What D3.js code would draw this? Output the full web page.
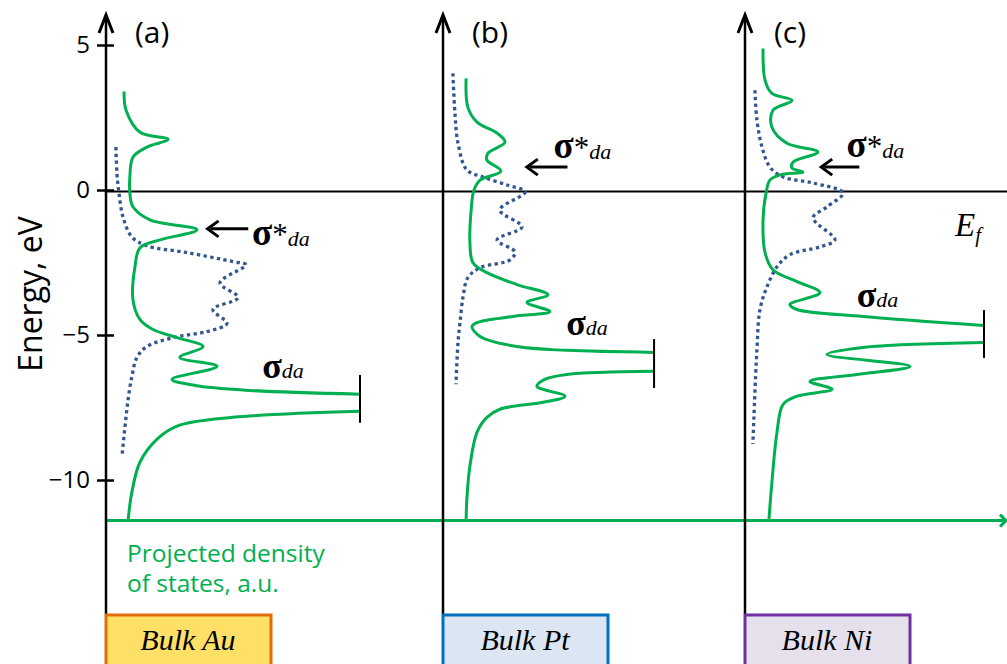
<!DOCTYPE html>
<meta charset="utf-8">
<html>
<style>
body { margin: 0; background: #fff; }
.tick text { font: 24px "Open Sans", sans-serif; fill: #000; }
.green { fill: none; stroke: #00b050; stroke-width: 3; }
.band { fill: none; stroke: #34558f; stroke-width: 3.3; stroke-dasharray: 3.3 3.4; }
.serif { font-family: "Liberation Serif", "DejaVu Serif", serif; }
</style>
<svg width="1007" height="664"></svg>
<script src="https://d3js.org/d3.v7.min.js"></script>
<script>
// energy ticks and labels
var energyTicks = [5, 0, -5, -10];
var panelLabels = ["(a)", "(b)", "(c)"];
var materials = ["Bulk Au", "Bulk Pt", "Bulk Ni"];
var captionLines = ["Projected density", "of states, a.u."];

// adsorbate projected DOS, [energy eV, dos a.u.]; null = cut at the bar
var auPdos = [[3.40,0.71],[2.75,0.79],[1.99,1.34],[1.75,2.44],[1.48,1.61],[1.13,1.06],[0.45,0.94],[-0.10,0.94],
  [-0.58,1.06],[-1.03,1.73],[-1.37,3.58],[-1.72,2.13],[-1.99,1.34],[-2.65,1.14],[-3.78,1.06],[-4.47,1.34],
  [-4.81,1.85],[-5.09,2.80],[-5.40,3.82],[-5.77,2.91],[-6.08,4.37],[-6.53,2.60],[-6.74,3.50],[-6.91,5.67],
  [-7.04,10.0], null, [-7.63,10.0],[-7.84,5.0],[-8.14,2.80],[-8.59,2.01],[-9.38,1.34],[-10.41,1.02],[-11.4,0.87]];
var ptPdos = [[3.85,0.91],[2.85,0.98],[2.34,1.34],[1.96,2.13],[1.65,2.44],[1.27,1.77],[1.03,1.73],[0.65,2.28],
  [0.34,1.46],[0.0,1.22],[-0.79,1.10],[-1.82,1.06],[-2.51,1.18],[-2.85,1.73],[-3.26,2.91],[-3.61,4.13],
  [-3.88,3.31],[-4.19,4.21],[-4.36,2.76],[-4.57,1.34],[-4.71,1.14],[-5.05,1.46],[-5.40,2.91],[-5.53,4.88],
  [-5.60,8.31], null, [-6.25,8.31],[-6.36,4.88],[-6.53,4.0],[-6.77,3.70],[-7.11,4.80],[-7.32,3.94],[-7.56,2.24],
  [-7.84,1.73],[-8.35,1.34],[-9.52,1.06],[-10.65,0.94],[-11.4,0.91]];
var niPdos = [[4.88,0.71],[3.78,0.79],[3.33,1.06],[3.09,1.85],[2.75,1.10],[2.16,1.06],[1.61,1.65],[1.31,2.87],
  [0.96,1.89],[0.76,1.85],[0.62,2.28],[0.52,1.38],[0.34,0.98],[-0.10,0.83],[-1.03,0.71],[-2.16,0.79],
  [-2.75,1.10],[-3.16,2.05],[-3.54,2.95],[-3.95,1.77],[-4.12,2.05],[-4.36,4.65],[-4.67,9.41], null,
  [-5.26,9.41],[-5.43,4.65],[-5.67,3.23],[-6.08,6.50],[-6.36,4.41],[-6.60,2.56],[-6.87,3.43],[-7.11,2.05],
  [-7.39,1.50],[-8.35,1.26],[-10.07,1.06],[-11.4,0.94]];

// metal d-band (dotted)
var auBand = [[1.48,0.39],[0.58,0.43],[-0.10,0.51],[-0.93,0.67],[-1.62,1.02],[-1.92,1.61],[-2.16,3.19],
  [-2.47,5.0],[-2.58,5.51],[-3.20,4.49],[-3.71,5.20],[-4.12,4.21],[-4.60,4.76],[-4.88,3.98],[-5.09,2.64],
  [-5.40,1.61],[-5.77,1.22],[-6.43,1.02],[-7.22,0.87],[-8.14,0.75],[-9.18,0.63]];
var ptBand = [[4.02,0.39],[2.65,0.47],[1.62,0.59],[0.69,0.94],[0.45,1.57],[0.17,2.52],[-0.07,3.23],
  [-0.69,2.24],[-1.27,3.11],[-1.72,2.13],[-2.13,2.83],[-2.41,2.64],[-2.68,1.46],[-3.02,0.98],[-3.68,0.79],
  [-4.57,0.67],[-5.26,0.59],[-6.70,0.51]];
var niBand = [[3.44,0.39],[2.41,0.47],[1.48,0.67],[0.79,0.98],[0.45,1.50],[0.24,2.68],[-0.10,3.86],
  [-0.58,3.23],[-0.96,2.68],[-1.72,3.54],[-1.96,2.95],[-2.23,1.77],[-2.65,1.26],[-3.33,0.87],[-4.12,0.59],
  [-5.50,0.47],[-8.76,0.31]];

// bonding peak cut-off: [dos, E top, E bottom]
var cutBars = [[10.0,-6.38,-8.03],[8.31,-5.14,-6.83],[9.41,-4.14,-5.79]];

var pdos = [auPdos, ptPdos, niPdos];
var bands = [auBand, ptBand, niBand];

// layout
var panelX = [106, 443, 745];
var boxFill = ["#ffe066", "#dce6f2", "#e6e0ec"];
var boxStroke = ["#e46c0a", "#0070c0", "#7030a0"];
// label anchors in data coords: star arrow [E, dosFrom, dosTo], star text [dos, E], sigma text [dos, E]
var starArrow = [[-1.34,4.0,5.6],[0.79,3.3,4.9],[0.79,3.0,4.5]];
var starText = [[5.75,-1.9],[4.35,1.1],[4.0,1.14]];
var sigmaText = [[6.15,-6.48],[4.85,-5.0],[4.4,-4.03]];
var axisE = -11.4;

var svg = d3.select("svg");
var y = d3.scaleLinear().domain([-10, 5]).range([480, 45]);
var xs = panelX.map(function(px) { return d3.scaleLinear().domain([0, 10]).range([px, px + 254]); });

// Fermi level
svg.append("line")
    .attr("x1", panelX[0]).attr("x2", 1007)
    .attr("y1", y(0) + 1.5).attr("y2", y(0) + 1.5)
    .attr("stroke", "#000").attr("stroke-width", 2);

// dos axis (green)
svg.append("line")
    .attr("x1", panelX[0]).attr("x2", 1005)
    .attr("y1", y(axisE)).attr("y2", y(axisE))
    .attr("stroke", "#00b050").attr("stroke-width", 3);
svg.append("path")
    .attr("d", "M1000," + (y(axisE) - 6) + "L1006," + y(axisE) + "L1000," + (y(axisE) + 6))
    .attr("fill", "none").attr("stroke", "#00b050").attr("stroke-width", 3);

// vertical axes with arrows
panelX.forEach(function(px) {
  svg.append("line")
      .attr("x1", px).attr("x2", px).attr("y1", 17).attr("y2", 614)
      .attr("stroke", "#000").attr("stroke-width", 2.5);
  svg.append("path")
      .attr("d", "M" + (px - 7) + ",33L" + px + ",15L" + (px + 7) + ",33")
      .attr("fill", "none").attr("stroke", "#000").attr("stroke-width", 3);
});

// energy ticks
var yAxis = svg.append("g")
    .attr("transform", "translate(" + panelX[0] + ",0)")
    .call(d3.axisLeft(y).tickValues(energyTicks).tickSize(9).tickPadding(7));
yAxis.select(".domain").remove();
yAxis.selectAll(".tick line").attr("x1", 8).attr("stroke-width", 2.5);

svg.append("text")
    .attr("transform", "translate(42,294) rotate(-90)")
    .attr("text-anchor", "middle")
    .style("font", "32px 'Open Sans', sans-serif")
    .text("Energy, eV");

var line = d3.line()
    .defined(function(d) { return d != null; })
    .y(function(d) { return y(d[0]); })
    .curve(d3.curveCatmullRom.alpha(0.5));

panelX.forEach(function(px, i) {
  var x = xs[i];
  line.x(function(d) { return x(d[1]); });

  svg.append("path").attr("class", "band").attr("d", line(bands[i]));
  svg.append("path").attr("class", "green").attr("d", line(pdos[i]));

  var b = cutBars[i];
  svg.append("line")
      .attr("x1", x(b[0])).attr("x2", x(b[0]))
      .attr("y1", y(b[1])).attr("y2", y(b[2]))
      .attr("stroke", "#000").attr("stroke-width", 2);

  svg.append("text")
      .attr("x", px + 29).attr("y", 43)
      .style("font", "30px 'Open Sans', sans-serif")
      .text(panelLabels[i]);

  // sigma* arrow
  var a = starArrow[i];
  svg.append("line")
      .attr("x1", x(a[1]) + 3).attr("x2", x(a[2]))
      .attr("y1", y(a[0])).attr("y2", y(a[0]))
      .attr("stroke", "#000").attr("stroke-width", 3);
  svg.append("path")
      .attr("d", "M" + (x(a[1]) + 11) + "," + (y(a[0]) - 8) + "L" + x(a[1]) + "," + y(a[0]) +
                 "L" + (x(a[1]) + 11) + "," + (y(a[0]) + 8))
      .attr("fill", "none").attr("stroke", "#000").attr("stroke-width", 3);

  var st = svg.append("text").attr("class", "serif")
      .attr("x", x(starText[i][0])).attr("y", y(starText[i][1]));
  st.append("tspan").style("font-size", "37px").style("font-weight", "bold").text("σ");
  st.append("tspan").style("font-size", "31px").text("*");
  st.append("tspan").style("font-size", "22px").style("font-style", "italic").attr("dy", 1).text("da");

  var sg = svg.append("text").attr("class", "serif")
      .attr("x", x(sigmaText[i][0])).attr("y", y(sigmaText[i][1]));
  sg.append("tspan").style("font-size", "36px").style("font-weight", "bold").text("σ");
  sg.append("tspan").style("font-size", "22px").style("font-style", "italic").text("da");

  // material box
  svg.append("rect")
      .attr("x", px).attr("y", 615).attr("width", 165).attr("height", 60)
      .attr("fill", boxFill[i]).attr("stroke", boxStroke[i]).attr("stroke-width", 3);
  svg.append("text").attr("class", "serif")
      .attr("x", px + 82).attr("y", 650)
      .attr("text-anchor", "middle")
      .style("font-size", "30px").style("font-style", "italic")
      .text(materials[i]);
});

// Fermi label
var ef = svg.append("text").attr("class", "serif").attr("x", 955).attr("y", 236);
ef.append("tspan").style("font-size", "33px").style("font-style", "italic").text("E");
ef.append("tspan").style("font-size", "21px").style("font-style", "italic").attr("dy", 6).text("f");

// dos axis caption
captionLines.forEach(function(t, k) {
  svg.append("text")
      .attr("x", 127).attr("y", 562 + k * 30)
      .style("font", "24.5px 'Open Sans', sans-serif")
      .attr("fill", "#00b050")
      .text(t);
});
</script>
</html>
